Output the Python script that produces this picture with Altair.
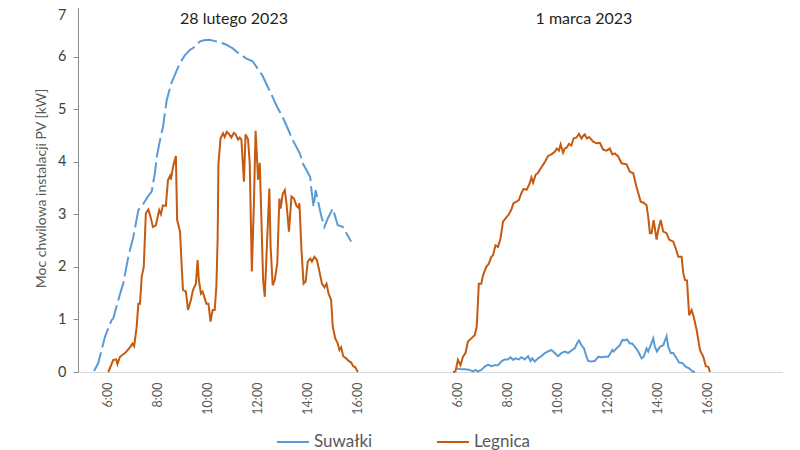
import altair as alt
import pandas as pd

# ---------------- data ----------------
# 28 lutego 2023 - Suwałki
s1_time = ["5:29", "5:39", "5:55", "6:11", "6:15", "6:27", "6:39", "6:51", "7:03", "7:15",
           "7:27", "7:39", "7:47", "7:55", "7:59", "8:07", "8:14", "8:23", "8:34", "8:46",
           "8:55", "9:07", "9:19", "9:26", "9:43", "9:52", "10:06", "10:30", "10:45", "11:02",
           "11:11", "11:34", "11:49", "12:13", "12:23", "12:37", "12:47", "13:01", "13:11",
           "13:25", "13:42", "13:49", "14:07", "14:09", "14:15", "14:20", "14:33", "14:41",
           "14:49", "15:01", "15:13", "15:25", "15:45"]
s1_val = [0.02, 0.17, 0.67, 0.99, 1.02, 1.37, 1.69, 2.19, 2.57, 3.08,
          3.20, 3.35, 3.43, 3.80, 4.09, 4.41, 4.66, 5.17, 5.49, 5.72,
          5.88, 6.03, 6.13, 6.16, 6.29, 6.31, 6.32, 6.27, 6.23, 6.15,
          6.09, 5.96, 5.91, 5.63, 5.46, 5.23, 5.05, 4.85, 4.67,
          4.41, 4.16, 3.97, 3.71, 3.52, 3.14, 3.46, 2.98, 2.76,
          2.92, 3.11, 2.79, 2.76, 2.48]

# 28 lutego 2023 - Legnica
l1_time = ["6:03", "6:15", "6:22", "6:25", "6:31", "6:43", "6:55", "7:01", "7:05", "7:11",
           "7:15", "7:19", "7:23", "7:28", "7:33", "7:39", "7:44", "7:50", "7:57", "8:05",
           "8:09", "8:14", "8:21", "8:26", "8:31", "8:33", "8:38", "8:45", "8:48", "8:55",
           "8:59", "9:02", "9:09", "9:14", "9:21", "9:26", "9:33", "9:37", "9:40", "9:45",
           "9:49", "9:53", "9:58", "10:03", "10:08", "10:13", "10:18", "10:22", "10:25", "10:27",
           "10:32", "10:38", "10:42", "10:47", "10:54", "10:58", "11:04", "11:08", "11:14", "11:18",
           "11:22", "11:28", "11:32", "11:38", "11:42", "11:47", "11:52", "11:56", "12:02", "12:06",
           "12:10", "12:14", "12:18", "12:22", "12:29", "12:32", "12:37", "12:42", "12:48", "12:53",
           "12:56", "13:01", "13:06", "13:10", "13:16", "13:22", "13:28", "13:34", "13:38", "13:41",
           "13:46", "13:51", "13:56", "14:01", "14:07", "14:11", "14:17", "14:23", "14:29", "14:35",
           "14:41", "14:46", "14:51", "14:57", "15:01", "15:07", "15:13", "15:17", "15:21", "15:26",
           "15:33", "15:39", "15:45", "15:50", "15:55", "16:01"]
l1_val = [0.00, 0.23, 0.24, 0.15, 0.29, 0.36, 0.47, 0.54, 0.49, 0.86,
          1.30, 1.30, 1.81, 2.00, 3.02, 3.09, 2.96, 2.76, 2.79, 3.08,
          3.00, 3.17, 3.16, 3.65, 3.73, 3.66, 3.90, 4.11, 2.89, 2.67,
          2.00, 1.56, 1.53, 1.18, 1.37, 1.56, 1.68, 2.13, 1.75, 1.49,
          1.53, 1.43, 1.30, 1.30, 0.96, 1.18, 1.18, 1.62, 2.51, 3.97,
          4.44, 4.54, 4.47, 4.57, 4.51, 4.46, 4.55, 4.52, 4.42, 4.46,
          4.42, 3.62, 4.52, 4.42, 3.97, 1.91, 3.21, 4.59, 3.66, 3.98,
          2.89, 1.75, 1.43, 2.19, 3.49, 2.38, 1.65, 1.75, 2.07, 3.30,
          3.11, 3.39, 3.46, 3.21, 2.67, 3.34, 3.30, 3.16, 3.13, 3.21,
          2.32, 1.68, 1.72, 2.10, 2.16, 2.10, 2.19, 2.13, 1.91, 1.68,
          1.61, 1.68, 1.49, 1.37, 0.86, 0.64, 0.54, 0.42, 0.47, 0.30,
          0.26, 0.21, 0.18, 0.11, 0.09, 0.00]

# 1 marca 2023 - Suwałki
s2_time = ["5:57", "6:09", "6:19", "6:29", "6:37", "6:43", "6:49", "6:57", "7:05", "7:13",
           "7:21", "7:29", "7:37", "7:45", "7:53", "8:01", "8:07", "8:13", "8:19", "8:27",
           "8:33", "8:41", "8:49", "8:55", "8:59", "9:05", "9:13", "9:21", "9:29", "9:37",
           "9:45", "9:53", "10:01", "10:09", "10:17", "10:25", "10:33", "10:41", "10:46", "10:51",
           "10:57", "11:03", "11:09", "11:13", "11:21", "11:29", "11:37", "11:45", "11:53", "12:01",
           "12:07", "12:11", "12:14", "12:21", "12:29", "12:35", "12:41", "12:46", "12:53", "12:59",
           "13:05", "13:13", "13:21", "13:26", "13:33", "13:37", "13:43", "13:49", "13:53", "13:58",
           "14:05", "14:13", "14:21", "14:25", "14:31", "14:37", "14:45", "14:51", "14:59", "15:07",
           "15:15", "15:23", "15:29"]
s2_val = [0.07, 0.05, 0.05, 0.04, 0.01, 0.04, 0.01, 0.04, 0.10, 0.14,
          0.11, 0.13, 0.13, 0.20, 0.24, 0.24, 0.28, 0.23, 0.26, 0.24,
          0.28, 0.24, 0.30, 0.21, 0.26, 0.20, 0.26, 0.30, 0.36, 0.39,
          0.42, 0.36, 0.30, 0.36, 0.39, 0.36, 0.41, 0.45, 0.54, 0.60,
          0.51, 0.45, 0.29, 0.21, 0.20, 0.21, 0.29, 0.28, 0.29, 0.29,
          0.36, 0.42, 0.39, 0.45, 0.51, 0.61, 0.60, 0.62, 0.54, 0.54,
          0.48, 0.39, 0.26, 0.29, 0.45, 0.39, 0.51, 0.64, 0.48, 0.39,
          0.48, 0.51, 0.68, 0.48, 0.36, 0.36, 0.26, 0.18, 0.17, 0.10,
          0.07, 0.01, 0.00]

# 1 marca 2023 - Legnica
l2_time = ["5:49", "5:55", "6:01", "6:07", "6:13", "6:19", "6:25", "6:33", "6:41", "6:46",
           "6:51", "6:57", "7:01", "7:09", "7:15", "7:21", "7:25", "7:31", "7:37", "7:43",
           "7:49", "7:55", "8:03", "8:09", "8:14", "8:21", "8:27", "8:33", "8:38", "8:46",
           "8:53", "8:57", "9:01", "9:07", "9:13", "9:19", "9:25", "9:31", "9:37", "9:45",
           "9:53", "9:58", "10:03", "10:07", "10:13", "10:17", "10:22", "10:27", "10:33", "10:38",
           "10:45", "10:51", "10:57", "11:01", "11:05", "11:10", "11:15", "11:19", "11:25", "11:33",
           "11:41", "11:49", "11:57", "12:05", "12:11", "12:17", "12:25", "12:33", "12:45", "12:53",
           "13:01", "13:09", "13:19", "13:26", "13:33", "13:37", "13:41", "13:45", "13:50", "13:57",
           "14:01", "14:07", "14:13", "14:21", "14:27", "14:37", "14:43", "14:49", "14:57", "15:01",
           "15:05", "15:10", "15:15", "15:21", "15:26", "15:33", "15:41", "15:49", "15:55", "16:01",
           "16:05"]
l2_val = [0.00, 0.01, 0.23, 0.13, 0.29, 0.36, 0.58, 0.64, 0.70, 0.86,
          1.68, 1.68, 1.84, 2.00, 2.06, 2.19, 2.22, 2.41, 2.38, 2.54,
          2.86, 2.92, 3.00, 3.09, 3.21, 3.24, 3.27, 3.40, 3.48, 3.47,
          3.59, 3.70, 3.60, 3.75, 3.79, 3.87, 3.94, 4.02, 4.11, 4.14,
          4.19, 4.25, 4.21, 4.33, 4.17, 4.25, 4.27, 4.34, 4.31, 4.44,
          4.46, 4.53, 4.44, 4.49, 4.52, 4.44, 4.47, 4.44, 4.38, 4.35,
          4.36, 4.23, 4.21, 4.25, 4.14, 4.16, 4.10, 3.97, 3.95, 3.81,
          3.78, 3.52, 3.24, 3.22, 3.17, 2.95, 2.64, 2.64, 2.89, 2.52,
          2.70, 2.89, 2.67, 2.64, 2.52, 2.48, 2.35, 2.19, 2.19, 1.88,
          1.75, 1.74, 1.08, 1.18, 1.05, 0.80, 0.42, 0.29, 0.11, 0.10,
          0.00]

series_names = ["Suwałki", "Legnica"]
series_colors = ["#5B9BD5", "#C55A11"]
day_titles = ["28 lutego 2023", "1 marca 2023"]
day_title_hour = [11.07, 11.05]
tick_hours = [6, 8, 10, 12, 14, 16]
y_ticks = [0, 1, 2, 3, 4, 5, 6, 7]
DAY2_OFFSET = 14  # second day is drawn 14 h to the right on the shared axis


def to_hours(t):
    h, m = t.split(":")
    return int(h) + int(m) / 60.0


def build(times, vals, series, day, style):
    off = DAY2_OFFSET if day == 2 else 0
    return pd.DataFrame({
        "x": [to_hours(t) + off for t in times],
        "y": vals,
        "series": series,
        "seg": f"{series}-{day}",
        "style": style,
    })


blue = pd.concat([build(s1_time, s1_val, "Suwałki", 1, "dash"),
                  build(s2_time, s2_val, "Suwałki", 2, "solid")], ignore_index=True)
orange = pd.concat([build(l1_time, l1_val, "Legnica", 1, "solid"),
                    build(l2_time, l2_val, "Legnica", 2, "solid")], ignore_index=True)

titles = pd.DataFrame({
    "x": [day_title_hour[0], day_title_hour[1] + DAY2_OFFSET],
    "y": [6.71, 6.71],
    "text": day_titles,
})

tick_values = tick_hours + [h + DAY2_OFFSET for h in tick_hours]

x_scale = alt.Scale(domain=[4.84, 32.96], nice=False, zero=False)
y_scale = alt.Scale(domain=[0, 7], nice=False)
color_scale = alt.Scale(domain=series_names, range=series_colors)
dash_scale = alt.Scale(domain=["dash", "solid"], range=[[20, 5], [1, 0]])

x_enc = alt.X("x:Q", scale=x_scale, title=None,
              axis=alt.Axis(values=tick_values,
                            labelExpr="datum.value > 18 ? (datum.value - 14) + ':00' : datum.value + ':00'",
                            labelAngle=270, labelFontSize=12.5, labelColor="#595959",
                            labelPadding=10, ticks=False, grid=False,
                            domainColor="#d9d9d9", domainWidth=1))
y_enc = alt.Y("y:Q", scale=y_scale, title="Moc chwilowa instalacji PV [kW]",
              axis=alt.Axis(values=y_ticks, format="d", grid=False,
                            labelFontSize=14.5, labelColor="#404040", labelPadding=7,
                            labelBaseline=alt.condition("datum.value == 7",
                                                        alt.value("top"),
                                                        alt.value("middle")),
                            labelOffset=alt.condition("datum.value == 7",
                                                      alt.value(4),
                                                      alt.value(0)),
                            tickSize=5, tickColor="#8c8c8c", domainColor="#8c8c8c",
                            titleFontSize=14, titleFontWeight="normal",
                            titleColor="#595959", titlePadding=9))

legend = alt.Legend(title=None, orient="none", direction="horizontal",
                    legendX=198, legendY=421, symbolType="stroke",
                    symbolSize=1024, symbolStrokeWidth=2, labelFontSize=17,
                    labelColor="#595959", labelOffset=4, columnPadding=60,
                    labelFont="Lato")

blue_line = alt.Chart(blue).mark_line(strokeWidth=2).encode(
    x=x_enc, y=y_enc,
    color=alt.Color("series:N", scale=color_scale, legend=legend),
    strokeDash=alt.StrokeDash("style:N", scale=dash_scale, legend=None),
    detail="seg:N",
    order="x:Q",
)
orange_line = alt.Chart(orange).mark_line(strokeWidth=2).encode(
    x=x_enc, y=y_enc,
    color=alt.Color("series:N", scale=color_scale, legend=legend),
    detail="seg:N",
    order="x:Q",
)
title_text = alt.Chart(titles).mark_text(fontSize=16, font="Lato", color="#1f1f1f",
                                         align="center", baseline="middle").encode(
    x=alt.X("x:Q", scale=x_scale), y=alt.Y("y:Q", scale=y_scale), text="text:N")

chart = alt.layer(blue_line, orange_line, title_text).properties(
    width=704, height=368,
    autosize=alt.AutoSizeParams(type="none"),
    padding={"left": 70, "top": -4, "right": 10, "bottom": 78},
).configure(font="Lato").configure_view(stroke=None)

chart.save("out.html", embed_options={"renderer": "svg", "actions": False})
